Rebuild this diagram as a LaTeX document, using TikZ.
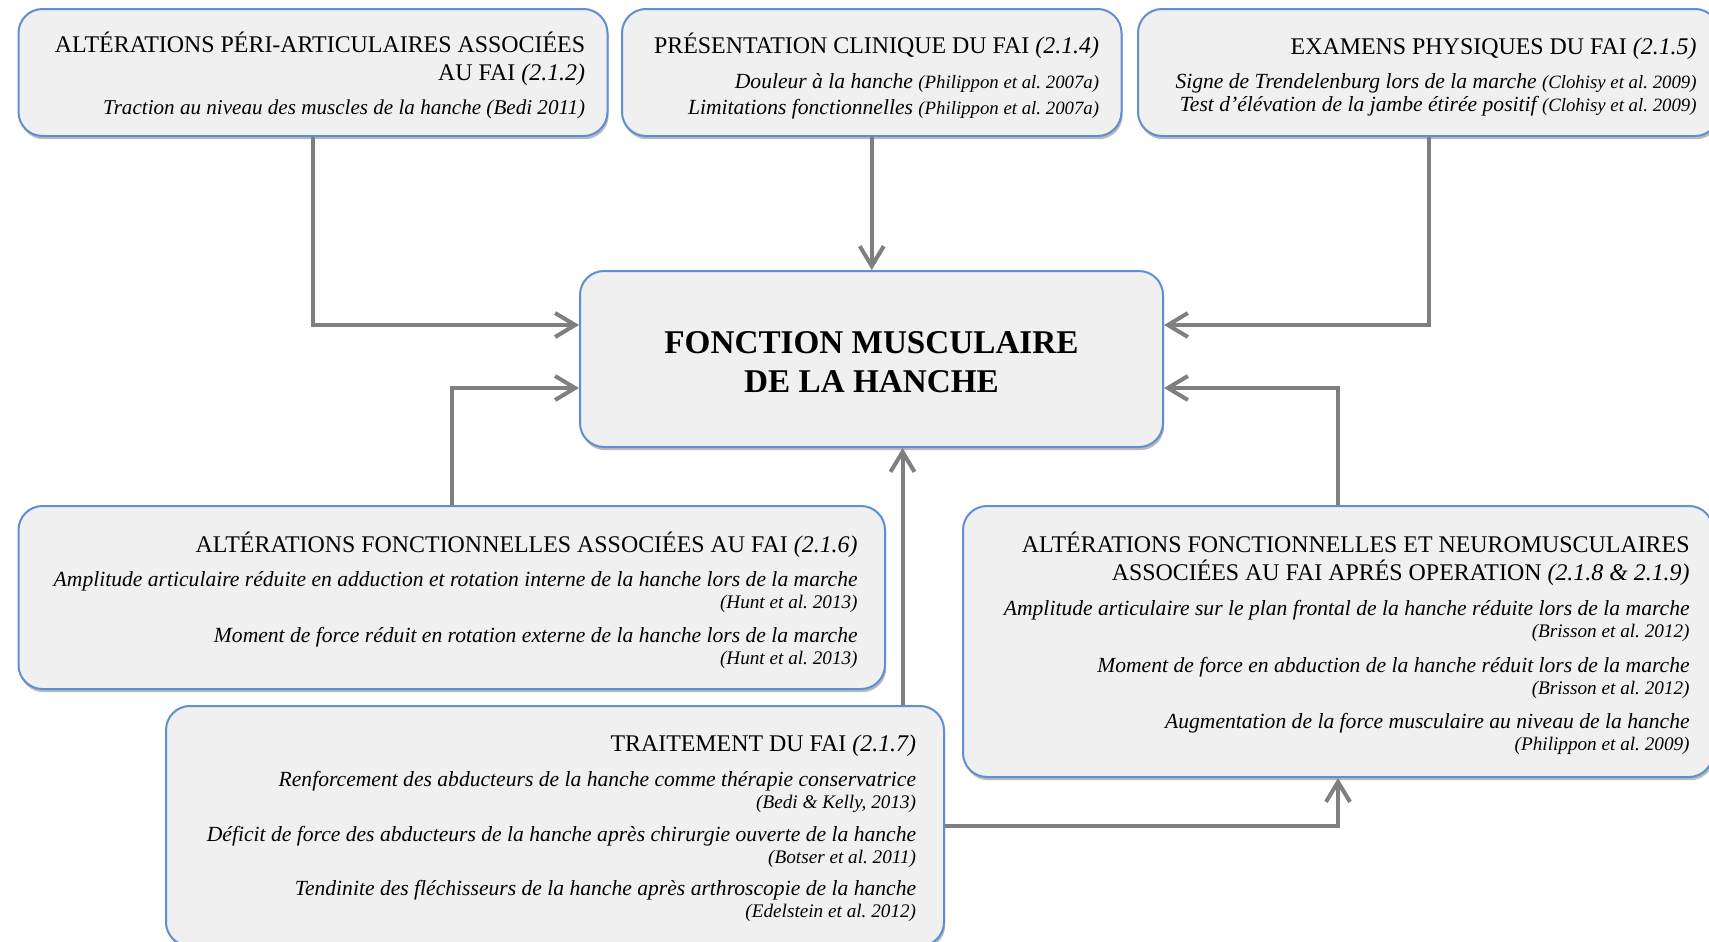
\documentclass[tikz,border=0pt]{standalone}
\usepackage{fontspec}
\setmainfont{Liberation Serif}
\usetikzlibrary{arrows.meta,shadows,calc}
\definecolor{boxfill}{HTML}{F0F0F0}
\definecolor{boxline}{HTML}{5E8FD2}
\definecolor{connc}{HTML}{7F7F7F}
\newcommand\mytitle{\fontsize{11.95}{11}\selectfont}
\newcommand\myit{\fontsize{10.8}{11}\selectfont\itshape}
\newcommand\myitA{\fontsize{10.55}{11}\selectfont\itshape}
\newcommand\mycite{\fontsize{9.6}{11}\selectfont\itshape}
\newcommand\mycitesm{\fontsize{9.4}{11}\selectfont\itshape}
\newcommand\firststrut{\rule{0pt}{11pt}}
\begin{document}
\begin{tikzpicture}[x=0.5pt,y=-0.5pt,
 box/.style={draw=boxline, line width=1pt, fill=boxfill, rounded corners=12pt, inner sep=0pt,
   drop shadow={shadow xshift=0.6pt, shadow yshift=-1.6pt, opacity=0.45, fill=black!60}},
 txt/.style={anchor=north east, inner sep=0pt, align=right, font=\fontsize{10.8}{11}\selectfont},
 conn/.style={draw=connc, line width=2pt, -{Straight Barb[length=10pt, width=12pt, line width=2pt]}},
]
\useasboundingbox (0,0) rectangle (1709,942);
\clip (0,0) rectangle (1709,942);

% boxes
\node[box, minimum width=294.5pt, minimum height=63.5pt] (A) at (313,72.5) {};
\node[box, minimum width=249.75pt, minimum height=63.5pt] (B) at (871.75,72.5) {};
\node[box, minimum width=290.5pt, minimum height=63.5pt] (C) at (1428.5,72.5) {};
\node[box, align=center, minimum width=291.5pt, minimum height=88pt, inner sep=0pt,
   font=\fontsize{16.6}{19.6}\selectfont\bfseries] (M) at (871.5,359)
 {\rule{0pt}{14.3pt}FONCTION MUSCULAIRE\\DE LA HANCHE};
\node[box, minimum width=433.25pt, minimum height=91.5pt] (D) at (451.75,597.5) {};
\node[box, minimum width=375pt, minimum height=135.5pt] (E) at (1338,641.5) {};
\node[box, minimum width=389pt, minimum height=120pt] (F) at (555,826) {};

% texts
\node[txt] (At) at ($(A.north east)+(-23,21.7)$)
 {{\mytitle\firststrut ALTÉRATIONS PÉRI-ARTICULAIRES ASSOCIÉES}\\[3.2pt]
  {\mytitle AU FAI \textit{(2.1.2)}}\\[6.2pt]
  {\myitA Traction au niveau des muscles de la hanche (Bedi 2011)}};

\node[txt] (Bt) at ($(B.north east)+(-23,22.8)$)
 {{\mytitle\firststrut PRÉSENTATION CLINIQUE DU FAI \textit{(2.1.4)}}\\[6.4pt]
  {\myit Douleur à la hanche {\mycitesm (Philippon et al.\ 2007a)}}\\[2pt]
  {\myit Limitations fonctionnelles {\mycitesm (Philippon et al.\ 2007a)}}};

\node[txt] (Ct) at ($(C.north east)+(-23,23.9)$)
 {{\mytitle\firststrut EXAMENS PHYSIQUES DU FAI \textit{(2.1.5)}}\\[6pt]
  {\myit Signe de Trendelenburg lors de la marche {\mycitesm (Clohisy et al.\ 2009)}}\\[0.6pt]
  {\myit Test d’élévation de la jambe étirée positif {\mycitesm (Clohisy et al.\ 2009)}}};

\node[txt] (Dt) at ($(D.north east)+(-28,24.7)$)
 {{\mytitle\firststrut ALTÉRATIONS FONCTIONNELLES ASSOCIÉES AU FAI \textit{(2.1.6)}}\\[6.4pt]
  {\myit Amplitude articulaire réduite en adduction et rotation interne de la hanche lors de la marche}\\
  {\mycite (Hunt et al.\ 2013)}\\[5.9pt]
  {\myit Moment de force réduit en rotation externe de la hanche lors de la marche}\\
  {\mycite (Hunt et al.\ 2013)}};

\node[txt] (Et) at ($(E.north east)+(-24,24.7)$)
 {{\mytitle\firststrut ALTÉRATIONS FONCTIONNELLES ET NEUROMUSCULAIRES}\\[3.4pt]
  {\mytitle ASSOCIÉES AU FAI APRÉS OPERATION \textit{(2.1.8 \& 2.1.9)}}\\[6.4pt]
  {\myit Amplitude articulaire sur le plan frontal de la hanche réduite lors de la marche}\\
  {\mycite (Brisson et al.\ 2012)}\\[6.5pt]
  {\myit Moment de force en abduction de la hanche réduit lors de la marche}\\
  {\mycite (Brisson et al.\ 2012)}\\[5.9pt]
  {\myit Augmentation de la force musculaire au niveau de la hanche}\\
  {\mycite (Philippon et al.\ 2009)}};

\node[txt] (Ft) at ($(F.north east)+(-28.5,24.5)$)
 {{\mytitle\firststrut TRAITEMENT DU FAI \textit{(2.1.7)}}\\[6.2pt]
  {\myit Renforcement des abducteurs de la hanche comme thérapie conservatrice}\\
  {\mycite (Bedi \& Kelly, 2013)}\\[5.6pt]
  {\myit Déficit de force des abducteurs de la hanche après chirurgie ouverte de la hanche}\\
  {\mycite (Botser et al.\ 2011)}\\[5pt]
  {\myit Tendinite des fléchisseurs de la hanche après arthroscopie de la hanche}\\
  {\mycite (Edelstein et al.\ 2012)}};

% connectors
\draw[conn] (A.south) |- ($(M.west)+(0,-34)$);
\draw[conn] (B.south) -- (B.south |- M.north);
\draw[conn] (C.south) |- ($(M.east)+(0,-34)$);
\draw[conn] (D.north) |- ($(M.west)+(0,29)$);
\draw[conn] (E.north) |- ($(M.east)+(0,29)$);
\coordinate (fm) at ($(M.south)+(31,0)$);
\draw[conn] (fm |- F.north) -- (fm);
\draw[conn] (F.east) -| (E.south);
\end{tikzpicture}
\end{document}
